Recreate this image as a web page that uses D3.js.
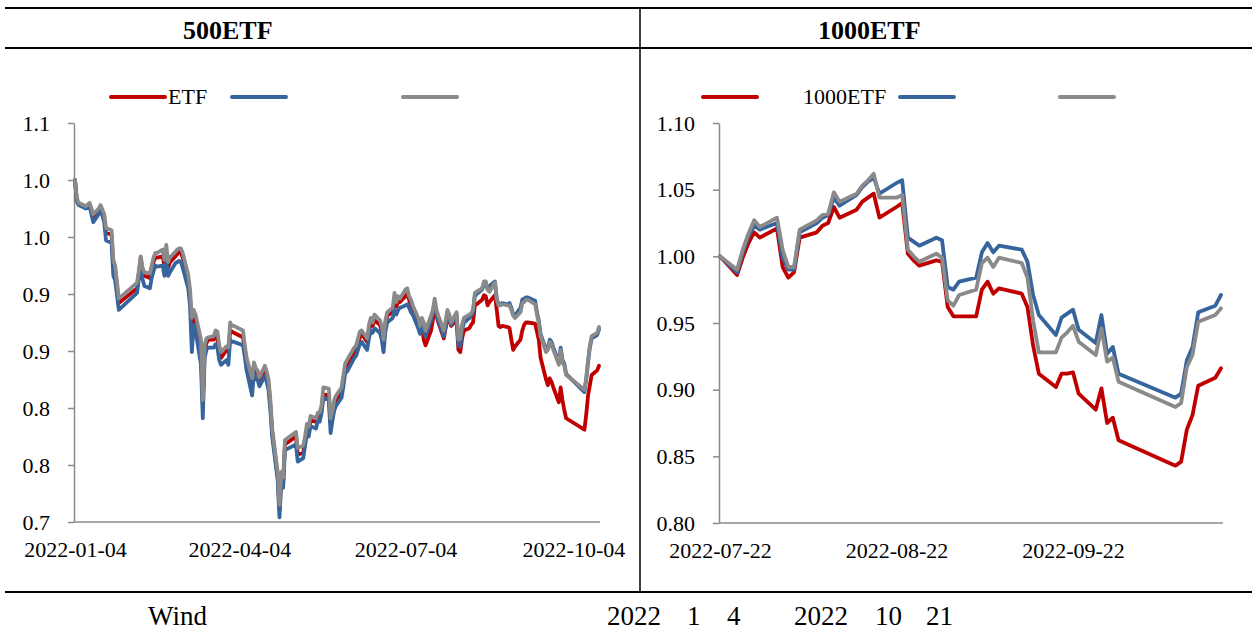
<!DOCTYPE html>
<html>
<head>
<meta charset="utf-8">
<script src="https://cdn.jsdelivr.net/npm/d3@7"></script>
<style>
  body { margin: 0; background: #fff; }
  svg { display: block; }
  text { font-family: "Liberation Serif", "Times New Roman", serif; fill: #000; }
</style>
</head>
<body>
<svg width="1252" height="633"></svg>
<script>
// ---- data: left panel (500ETF), trading days ----
const leftDates = [
  "2022-01-04","2022-01-05","2022-01-06","2022-01-10","2022-01-12","2022-01-14","2022-01-17","2022-01-18","2022-01-20","2022-01-21","2022-01-24","2022-01-25","2022-01-26","2022-01-28",
  "2022-02-07","2022-02-08","2022-02-09","2022-02-10","2022-02-11","2022-02-14","2022-02-15","2022-02-16","2022-02-17","2022-02-18","2022-02-21","2022-02-22","2022-02-23","2022-02-24","2022-02-25","2022-02-28",
  "2022-03-01","2022-03-02","2022-03-03","2022-03-04","2022-03-07","2022-03-08","2022-03-09","2022-03-10","2022-03-11","2022-03-14","2022-03-15","2022-03-16","2022-03-17","2022-03-18","2022-03-21","2022-03-22","2022-03-23","2022-03-24","2022-03-25","2022-03-28","2022-03-29","2022-03-30","2022-03-31",
  "2022-04-01","2022-04-06","2022-04-07","2022-04-08","2022-04-11","2022-04-12","2022-04-13","2022-04-14","2022-04-15","2022-04-18","2022-04-19","2022-04-20","2022-04-21","2022-04-22","2022-04-25","2022-04-26","2022-04-27","2022-04-28","2022-04-29",
  "2022-05-05","2022-05-06","2022-05-09","2022-05-10","2022-05-11","2022-05-12","2022-05-13","2022-05-16","2022-05-17","2022-05-18","2022-05-19","2022-05-20","2022-05-23","2022-05-24","2022-05-25","2022-05-26","2022-05-27","2022-05-30","2022-05-31",
  "2022-06-01","2022-06-02","2022-06-06","2022-06-07","2022-06-08","2022-06-09","2022-06-10","2022-06-13","2022-06-14","2022-06-15","2022-06-16","2022-06-17","2022-06-20","2022-06-21","2022-06-22","2022-06-23","2022-06-24","2022-06-27","2022-06-28","2022-06-29","2022-06-30",
  "2022-07-01","2022-07-04","2022-07-05","2022-07-06","2022-07-07","2022-07-08","2022-07-11","2022-07-12","2022-07-13","2022-07-14","2022-07-15","2022-07-18","2022-07-19","2022-07-20","2022-07-21","2022-07-22","2022-07-25","2022-07-26","2022-07-27","2022-07-28","2022-07-29",
  "2022-08-01","2022-08-02","2022-08-03","2022-08-04","2022-08-05","2022-08-08","2022-08-09","2022-08-10","2022-08-11","2022-08-12","2022-08-15","2022-08-16","2022-08-17","2022-08-18","2022-08-19","2022-08-22","2022-08-23","2022-08-24","2022-08-25","2022-08-26","2022-08-29","2022-08-30","2022-08-31",
  "2022-09-01","2022-09-02","2022-09-05","2022-09-06","2022-09-07","2022-09-08","2022-09-09","2022-09-13","2022-09-14","2022-09-15","2022-09-16","2022-09-19","2022-09-20","2022-09-21","2022-09-22","2022-09-23","2022-09-26","2022-09-27","2022-09-28","2022-09-29","2022-09-30",
  "2022-10-10","2022-10-11","2022-10-12","2022-10-13","2022-10-14","2022-10-17","2022-10-18"
];
// red
const leftEtf = [
  1.000,0.982,0.979,0.976,0.978,0.968,0.973,0.977,0.967,0.954,0.952,0.925,0.921,0.892,
  0.905,0.918,0.932,0.920,0.916,0.914,0.921,0.928,0.932,0.932,0.933,0.925,0.937,0.923,0.928,0.933,
  0.935,0.937,0.936,0.932,0.912,0.898,0.868,0.882,0.877,0.849,0.803,0.851,0.857,0.860,0.860,0.863,0.861,0.849,0.844,0.851,0.849,0.868,0.867,
  0.866,0.862,0.851,0.840,0.820,0.836,0.831,0.831,0.825,0.833,0.828,0.821,0.803,0.779,0.740,0.711,0.740,0.735,0.768,
  0.775,0.759,0.761,0.771,0.782,0.781,0.789,0.788,0.793,0.793,0.798,0.812,0.811,0.786,0.795,0.804,0.807,0.814,0.825,
  0.835,0.838,0.849,0.851,0.857,0.862,0.865,0.858,0.868,0.875,0.872,0.877,0.873,0.867,0.855,0.873,0.881,0.884,0.895,0.889,0.893,
  0.893,0.898,0.900,0.895,0.891,0.888,0.875,0.867,0.875,0.860,0.855,0.868,0.877,0.890,0.881,0.875,0.861,0.870,0.879,0.877,0.872,
  0.877,0.851,0.849,0.861,0.868,0.870,0.873,0.875,0.890,0.891,0.895,0.899,0.898,0.890,0.893,0.899,0.886,0.872,0.871,0.872,0.871,0.870,0.860,
  0.851,0.854,0.860,0.868,0.873,0.875,0.875,0.874,0.867,0.860,0.844,0.825,0.820,0.826,0.823,0.818,0.805,0.818,0.807,0.798,0.791,
  0.781,0.794,0.811,0.820,0.829,0.833,0.837
];
// blue
const leftIdx = [
  1.000,0.981,0.978,0.975,0.977,0.963,0.970,0.975,0.963,0.947,0.945,0.916,0.912,0.886,
  0.901,0.914,0.928,0.913,0.907,0.905,0.914,0.920,0.925,0.924,0.925,0.916,0.928,0.916,0.919,0.927,
  0.928,0.929,0.928,0.923,0.905,0.890,0.849,0.873,0.868,0.838,0.791,0.844,0.851,0.853,0.853,0.856,0.853,0.842,0.838,0.842,0.838,0.860,0.858,
  0.858,0.855,0.845,0.833,0.811,0.831,0.825,0.825,0.819,0.828,0.823,0.816,0.798,0.775,0.737,0.704,0.735,0.730,0.763,
  0.768,0.753,0.756,0.767,0.777,0.775,0.784,0.782,0.789,0.788,0.795,0.809,0.807,0.778,0.789,0.798,0.802,0.809,0.819,
  0.831,0.832,0.844,0.846,0.851,0.856,0.858,0.851,0.861,0.868,0.866,0.870,0.866,0.860,0.849,0.867,0.875,0.879,0.886,0.882,0.886,
  0.888,0.890,0.891,0.888,0.884,0.882,0.870,0.865,0.872,0.867,0.863,0.877,0.884,0.892,0.882,0.877,0.863,0.872,0.881,0.879,0.873,
  0.882,0.855,0.854,0.868,0.875,0.879,0.881,0.884,0.898,0.900,0.904,0.909,0.909,0.904,0.907,0.911,0.896,0.891,0.891,0.892,0.891,0.892,0.888,
  0.882,0.881,0.888,0.895,0.896,0.897,0.897,0.894,0.884,0.877,0.865,0.851,0.853,0.860,0.858,0.853,0.840,0.853,0.842,0.839,0.830,
  0.814,0.825,0.840,0.853,0.861,0.864,0.869
];
// gray
const leftEnh = [
  1.000,0.984,0.980,0.977,0.980,0.970,0.975,0.978,0.970,0.958,0.956,0.930,0.925,0.896,
  0.910,0.921,0.933,0.923,0.919,0.918,0.925,0.932,0.936,0.936,0.939,0.930,0.943,0.928,0.932,0.937,
  0.939,0.940,0.940,0.936,0.917,0.904,0.879,0.886,0.882,0.860,0.807,0.855,0.861,0.862,0.863,0.868,0.867,0.855,0.849,0.854,0.853,0.875,0.872,
  0.872,0.868,0.855,0.844,0.826,0.840,0.835,0.833,0.827,0.837,0.832,0.825,0.807,0.782,0.744,0.715,0.744,0.739,0.772,
  0.779,0.765,0.767,0.775,0.786,0.784,0.793,0.791,0.796,0.796,0.802,0.818,0.817,0.791,0.798,0.807,0.811,0.818,0.829,
  0.839,0.842,0.853,0.855,0.861,0.867,0.868,0.861,0.873,0.879,0.875,0.882,0.877,0.872,0.860,0.877,0.884,0.888,0.901,0.893,0.898,
  0.896,0.904,0.905,0.898,0.895,0.890,0.879,0.872,0.879,0.875,0.868,0.881,0.886,0.896,0.886,0.881,0.868,0.877,0.886,0.882,0.875,
  0.884,0.860,0.861,0.873,0.879,0.882,0.883,0.886,0.901,0.902,0.905,0.911,0.911,0.904,0.902,0.910,0.895,0.890,0.890,0.891,0.890,0.890,0.886,
  0.881,0.879,0.884,0.892,0.893,0.895,0.895,0.891,0.882,0.875,0.863,0.849,0.851,0.858,0.856,0.851,0.838,0.851,0.840,0.837,0.829,
  0.816,0.826,0.842,0.855,0.863,0.866,0.871
];
const leftYTicks = [0.70, 0.75, 0.80, 0.85, 0.90, 0.95, 1.00, 1.05];
const leftYLabels = ["0.7", "0.8", "0.8", "0.9", "0.9", "1.0", "1.0", "1.1"];
const leftXTicks = ["2022-01-04", "2022-04-04", "2022-07-04", "2022-10-04"];
const leftLegend = ["ETF", "", ""];

// ---- data: right panel (1000ETF) ----
const rightDates = [
  "2022-07-22","2022-07-25","2022-07-26","2022-07-27","2022-07-28","2022-07-29",
  "2022-08-01","2022-08-02","2022-08-03","2022-08-04","2022-08-05","2022-08-08","2022-08-09","2022-08-10","2022-08-11","2022-08-12","2022-08-15","2022-08-16","2022-08-17","2022-08-18","2022-08-19","2022-08-22","2022-08-23","2022-08-24","2022-08-25","2022-08-26","2022-08-29","2022-08-30","2022-08-31",
  "2022-09-01","2022-09-02","2022-09-05","2022-09-06","2022-09-07","2022-09-08","2022-09-09","2022-09-13","2022-09-14","2022-09-15","2022-09-16","2022-09-19","2022-09-20","2022-09-21","2022-09-22","2022-09-23","2022-09-26","2022-09-27","2022-09-28","2022-09-29","2022-09-30",
  "2022-10-10","2022-10-11","2022-10-12","2022-10-13","2022-10-14","2022-10-17","2022-10-18"
];
const rightEtf = [
  1.000,0.986,0.999,1.010,1.018,1.014,
  1.021,0.992,0.984,0.988,1.014,1.018,1.023,1.025,1.037,1.029,1.035,1.041,1.044,1.047,1.029,1.037,1.040,1.002,0.997,0.993,0.997,0.996,0.962,
  0.955,0.955,0.955,0.975,0.981,0.972,0.976,0.972,0.962,0.933,0.912,0.902,0.912,0.912,0.913,0.897,0.885,0.901,0.875,0.879,0.862,
  0.843,0.846,0.870,0.881,0.903,0.909,0.916
];
const rightIdx = [
  1.000,0.988,1.003,1.015,1.023,1.020,
  1.025,0.999,0.990,0.990,1.018,1.025,1.029,1.031,1.044,1.038,1.046,1.052,1.056,1.059,1.047,1.055,1.057,1.014,1.011,1.008,1.014,1.012,0.977,
  0.975,0.981,0.984,1.003,1.010,1.003,1.008,1.005,0.996,0.971,0.956,0.941,0.954,0.957,0.960,0.945,0.935,0.956,0.927,0.932,0.912,
  0.894,0.897,0.922,0.932,0.958,0.963,0.971
];
const rightEnh = [
  1.000,0.990,1.005,1.017,1.027,1.022,
  1.029,1.005,0.992,0.992,1.020,1.027,1.031,1.032,1.048,1.041,1.047,1.053,1.057,1.062,1.044,1.044,1.046,1.005,1.000,0.996,1.002,0.999,0.967,
  0.963,0.971,0.975,0.995,0.999,0.992,0.999,0.995,0.984,0.952,0.928,0.928,0.939,0.943,0.948,0.936,0.926,0.946,0.921,0.924,0.906,
  0.887,0.890,0.917,0.926,0.951,0.956,0.961
];
const rightYTicks = [0.80, 0.85, 0.90, 0.95, 1.00, 1.05, 1.10];
const rightYLabels = ["0.80", "0.85", "0.90", "0.95", "1.00", "1.05", "1.10"];
const rightXTicks = ["2022-07-22", "2022-08-22", "2022-09-22"];
const rightLegend = ["1000ETF", "", ""];

const colors = ["#C00000", "#35659C", "#8A8A8A"];

const parse = d3.timeParse("%Y-%m-%d");
const fmt = d3.timeFormat("%Y-%m-%d");
const svg = d3.select("svg");
const axisColor = "#8A8A8A";

// frame of the table
const frame = svg.append("g").attr("stroke", "#000").attr("fill", "none");
frame.append("line").attr("x1", 5).attr("x2", 1252).attr("y1", 8).attr("y2", 8).attr("stroke-width", 2);
frame.append("line").attr("x1", 5).attr("x2", 1252).attr("y1", 48).attr("y2", 48).attr("stroke-width", 2);
frame.append("line").attr("x1", 5).attr("x2", 1252).attr("y1", 592).attr("y2", 592).attr("stroke-width", 2);
frame.append("line").attr("x1", 640).attr("x2", 640).attr("y1", 8).attr("y2", 592).attr("stroke-width", 1.5);

const panels = [
  {
    title: "500ETF", titleX: 183,
    dates: leftDates, series: [leftEtf, leftIdx, leftEnh],
    yDomain: [0.70, 1.05], yTicks: leftYTicks, yLabels: leftYLabels, xTicks: leftXTicks,
    axisX: 74, axisEnd: 600, xRange: [75, 599], yTop: 123, yBottom: 522,
    legend: leftLegend, legendLineX: [111, 232, 403], legendLineW: 54, legendTextX: [168, 294, 464]
  },
  {
    title: "1000ETF", titleX: 818,
    dates: rightDates, series: [rightEtf, rightIdx, rightEnh],
    yDomain: [0.80, 1.10], yTicks: rightYTicks, yLabels: rightYLabels, xTicks: rightXTicks,
    axisX: 719, axisEnd: 1223, xRange: [720, 1221], yTop: 123, yBottom: 523,
    legend: rightLegend, legendLineX: [703, 900, 1060], legendLineW: 54, legendTextX: [803, 960, 1120]
  }
];

panels.forEach(p => {
  const dates = p.dates.map(parse);
  const x = d3.scaleTime().domain(d3.extent(dates)).range(p.xRange);
  const y = d3.scaleLinear().domain(p.yDomain).range([p.yBottom, p.yTop]);

  // title
  svg.append("text")
    .attr("x", p.titleX)
    .attr("y", 39)
    .attr("font-size", 26)
    .attr("font-weight", "bold")
    .text(p.title);

  // y axis
  const yAxis = svg.append("g")
    .attr("transform", `translate(${p.axisX},0)`)
    .call(d3.axisLeft(y)
      .tickValues(p.yTicks)
      .tickFormat((d, i) => p.yLabels[i])
      .tickSizeInner(6)
      .tickSizeOuter(0)
      .tickPadding(18));

  // x axis
  const xAxis = svg.append("g")
    .attr("transform", `translate(0,${p.yBottom})`)
    .call(d3.axisBottom(x)
      .tickValues(p.xTicks.map(parse))
      .tickFormat(fmt)
      .tickSize(0)
      .tickPadding(19));
  xAxis.select(".domain").attr("d", `M${p.axisX},0H${p.axisEnd}`);

  [yAxis, xAxis].forEach(a => {
    a.attr("font-family", null).attr("font-size", null);
    a.select(".domain").attr("stroke", axisColor).attr("stroke-width", 1.5);
    a.selectAll(".tick line").attr("stroke", axisColor).attr("stroke-width", 1.5);
    a.selectAll(".tick text").attr("font-size", 22).attr("fill", "#000");
  });

  // lines
  const line = d3.line()
    .x(d => x(d.date))
    .y(d => y(d.value));

  p.series.forEach((vals, k) => {
    const rows = dates.map((d, i) => ({ date: d, value: vals[i] }));
    svg.append("path")
      .datum(rows)
      .attr("fill", "none")
      .attr("stroke", colors[k])
      .attr("stroke-width", 3.8)
      .attr("stroke-linejoin", "round")
      .attr("stroke-linecap", "round")
      .attr("d", line);
  });

  // legend
  p.legend.forEach((label, k) => {
    svg.append("line")
      .attr("x1", p.legendLineX[k])
      .attr("x2", p.legendLineX[k] + p.legendLineW)
      .attr("y1", 97)
      .attr("y2", 97)
      .attr("stroke", colors[k])
      .attr("stroke-width", 4)
      .attr("stroke-linecap", "round");
    svg.append("text")
      .attr("x", p.legendTextX[k])
      .attr("y", 104)
      .attr("font-size", 22)
      .text(label);
  });
});

// source note (only the latin glyph runs are visible)
const noteParts = [
  { t: "Wind", x: 148 },
  { t: "2022", x: 607 },
  { t: "1", x: 687 },
  { t: "4", x: 727 },
  { t: "2022", x: 794 },
  { t: "10", x: 875 },
  { t: "21", x: 926 }
];
svg.selectAll(".note")
  .data(noteParts)
  .enter()
  .append("text")
  .attr("class", "note")
  .attr("x", d => d.x)
  .attr("y", 625)
  .attr("font-size", 27)
  .text(d => d.t);
</script>
</body>
</html>
